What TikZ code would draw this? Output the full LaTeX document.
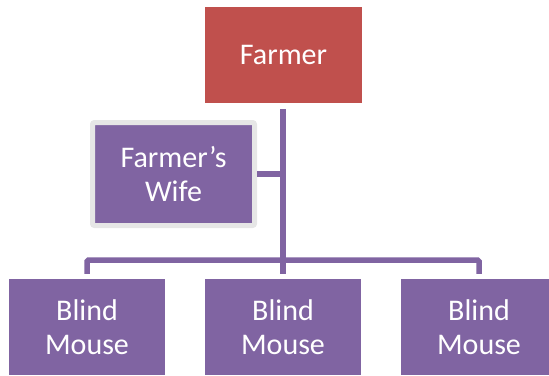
\documentclass[tikz,border=0pt]{standalone}
\usepackage{fontspec}
\setmainfont{Carlito}
\usetikzlibrary{positioning}
\definecolor{boss}{HTML}{C0504D}
\definecolor{staff}{HTML}{8064A2}
\definecolor{frame}{HTML}{E6E6E6}

\begin{document}
\begin{tikzpicture}[x=1pt, y=1pt,
		box/.style={rectangle, fill=staff, text=white, align=center, minimum width=156pt, minimum height=96pt, inner sep=0pt, font=\fontsize{30}{34}\selectfont},
		conn/.style={draw=staff, line width=5.5pt}]
		\useasboundingbox (0,0) rectangle (549,-375);
		\node (farmer) [box, fill=boss, minimum width=157pt] at (283.5,-55) {Farmer};
		\node (wife) [box, draw=frame, line width=5pt, rounded corners=2pt, minimum width=162pt, minimum height=103pt] at (173.5,-174) {Farmer\symbol{39}s\\Wife};
		\node (mouseA) [box] at (87,-327) {Blind\\Mouse};
		\node (mouseB) [box] at (283,-327) {Blind\\Mouse};
		\node (mouseC) [box] at (479,-327) {Blind\\Mouse};
		\coordinate (bus) at (283,-260);
		% Verbindungen
		\draw [conn, shorten <=6pt, shorten >=5pt] (farmer.south -| mouseB.north) to (mouseB.north);
		\draw [conn] (wife.east) to (wife.east -| mouseB.north);
		\draw [conn, rounded corners=1.5pt] ([yshift=5pt]mouseA.north) |- (bus) -| ([yshift=5pt]mouseC.north);
	\end{tikzpicture}
\end{document}
